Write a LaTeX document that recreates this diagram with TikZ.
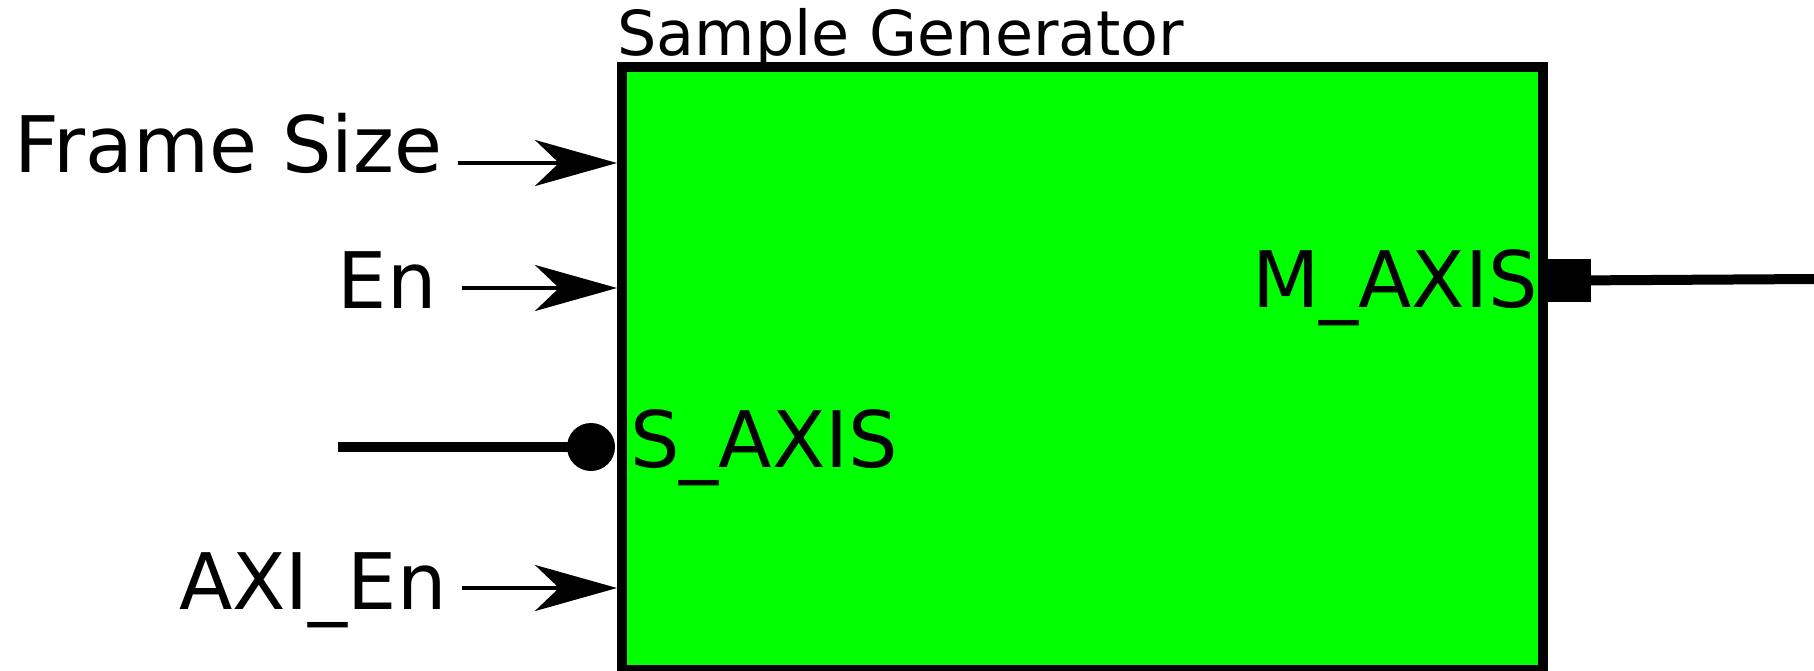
\documentclass[tikz,border=0pt]{standalone}
\usepackage{fontspec}
\setmainfont{DejaVu Sans}
\usetikzlibrary{arrows.meta}
\definecolor{blockgreen}{RGB}{0,255,0}
\begin{document}
\begin{tikzpicture}[x=0.5pt,y=-0.5pt,
  lbl/.style={inner sep=0pt, font=\fontsize{39}{39}\selectfont},
  ttl/.style={inner sep=0pt, font=\fontsize{31}{31}\selectfont},
  inarrow/.style={line width=2pt, -{Stealth[length=41pt,width=23pt,inset=12pt]}},
  bus/.style={line width=5pt},
]
\useasboundingbox (0,0) rectangle (1814,670);

% the generator block
\node[draw=black, line width=5pt, fill=blockgreen, inner sep=0pt,
      minimum width=460.5pt, minimum height=301.75pt]
      (gen) at (1082.5,368.25) {};
\node[ttl, anchor=base west] (title) at (617,55) {Sample Generator};

% scalar inputs
\node[lbl, anchor=base east] (fs) at (443,172) {Frame Size};
\node[lbl, anchor=base east] (en) at (437,308) {En};
\node[lbl, anchor=base east] (axien) at (447,609) {AXI\_En};
\coordinate (fsStart) at (458,163);
\coordinate (enStart) at (462,288);
\coordinate (axStart) at (462,588);
\draw[inarrow] (fsStart) -- (gen.west |- fsStart);
\draw[inarrow] (enStart) -- (gen.west |- enStart);
\draw[inarrow] (axStart) -- (gen.west |- axStart);

% stream slave port
\node[lbl, anchor=base west] (sax) at (630,467) {S\_AXIS};
\node[circle, fill=black, inner sep=0pt, minimum size=24pt] (sdot) at (591,447) {};
\coordinate (sFree) at (338,447);
\draw[bus] (sFree) -- (sdot.center);

% stream master port
\node[lbl, anchor=base east] (max) at (1538,307) {M\_AXIS};
\node[rectangle, fill=black, inner sep=0pt, minimum width=23pt, minimum height=21.5pt] (msq) at (1568,280.5) {};
\coordinate (mFree) at (1814,279);
\draw[bus] (msq.center) -- (mFree);
\end{tikzpicture}
\end{document}
